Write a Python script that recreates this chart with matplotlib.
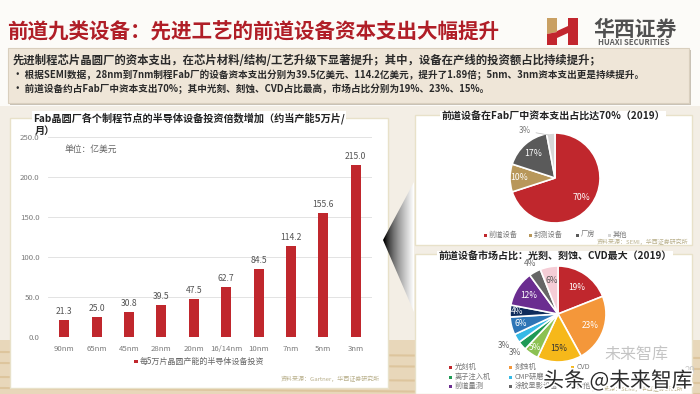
import numpy as np
import matplotlib
matplotlib.use("Agg")
import matplotlib.pyplot as plt
from matplotlib.patches import Rectangle, Polygon
import matplotlib.patheffects as pe

plt.rcParams['font.family'] = ['Noto Sans CJK SC', 'DejaVu Sans']

# data
nodes = ['90nm', '65nm', '45nm', '28nm', '20nm', '16/14nm', '10nm', '7nm', '5nm', '3nm']
capex = [21.3, 25.0, 30.8, 39.5, 47.5, 62.7, 84.5, 114.2, 155.6, 215.0]
y_ticks = [0, 50, 100, 150, 200, 250]

fab_labels = ['前道设备', '封测设备', '厂房', '其他']
fab_share = [70, 10, 17, 3]

equip_labels = ['光刻机', '刻蚀机', 'CVD', 'PVD', '离子注入机', 'CMP研磨',
                '清洗设备', '热处理设备', '前道量测', '涂胶显影设备', '其他']
equip_share = [19, 23, 15, 5, 3, 3, 6, 4, 12, 4, 6]

title = '前道九类设备：先进工艺的前道设备资本支出大幅提升'
summary = ['先进制程芯片晶圆厂的资本支出，在芯片材料/结构/工艺升级下显著提升；其中，设备在产线的投资额占比持续提升；',
           '• 根据SEMI数据，28nm到7nm制程Fab厂的设备资本支出分别为39.5亿美元、114.2亿美元，提升了1.89倍；5nm、3nm资本支出更是持续提升。',
           '• 前道设备约占Fab厂中资本支出70%；其中光刻、刻蚀、CVD占比最高，市场占比分别为19%、23%、15%。']

RED = '#C0272D'
fab_colors = [RED, '#B8975A', '#5A5A5A', '#D6D6D6']
equip_colors = [RED, '#F4973A', '#F6B81A', '#8CC152', '#1E9A55', '#35B9E6',
                '#2E75B6', '#0F2B5B', '#6B2D90', '#666666', '#F5CDD6']

W, H = 700, 394
fig = plt.figure(figsize=(7, 3.94), dpi=100, facecolor='#F3EEE5')


def fbox(x0, y0, x1, y1):
    # pixel box -> figure fraction [left, bottom, width, height]
    return [x0 / W, 1 - y1 / H, (x1 - x0) / W, (y1 - y0) / H]


# background layer in pixel coords
bg = fig.add_axes([0, 0, 1, 1])
bg.set_zorder(-1)
bg.axis('off')

bg.add_patch(Rectangle((0, 0), W, 106, color='#FCFBF8', lw=0, zorder=0.1))
bg.add_patch(Rectangle((0, 340), W, 54, color='#E6D2B0', lw=0, alpha=0.8, zorder=0.1))
for yy in [352, 363, 377, 388]:
    bg.plot([0, W], [yy, yy + 6], color='#D7B98A', lw=1.5, alpha=0.6, zorder=0.2)

# title + logo
bg.text(7, 32, title, fontsize=14.8, fontweight='bold', color='#B01E27', va='center')
bg.add_patch(Polygon([(547, 18), (557, 18), (557, 32), (547, 34)], color='#C9A063', lw=0))
bg.add_patch(Polygon([(547, 34), (557, 32), (557, 45), (547, 45)], color='#C2262E', lw=0))
bg.add_patch(Polygon([(557, 31), (568, 26), (568, 33), (557, 38)], color='#C2262E', lw=0))
bg.add_patch(Polygon([(568, 18), (578, 18), (578, 45), (568, 45)], color='#C2262E', lw=0))
bg.text(635, 29, '华西证券', fontsize=15, color='#505050', ha='center', va='center', fontweight='bold')
bg.text(634, 42, 'HUAXI SECURITIES', fontsize=5.6, color='#606060', ha='center', va='center', fontweight='bold')

# summary box
bg.add_patch(Rectangle((10, 50), 681, 55, color='#C9C2B6', lw=0))
bg.add_patch(Rectangle((8, 48), 681, 55, facecolor='#EFE6D8', edgecolor='#D9CFBE', lw=0.8))
sizes = [8.2, 6.9, 6.9]
for i, line in enumerate(summary):
    bg.text(13, 60 + i * 14.5, line, fontsize=sizes[i], color='#2A2A2A',
            fontweight='bold', va='center')

# panels
for (x0, y0, x1, y1) in [(10, 118, 388, 388), (415, 115, 692, 245), (415, 254, 692, 394)]:
    bg.add_patch(Rectangle((x0, y0), x1 - x0, y1 - y0, facecolor='white',
                           edgecolor='#E8E1C9', lw=1, zorder=1))

# gradient arrow between panels
tri = Polygon([(383, 240), (414, 182), (414, 312)], facecolor='none', edgecolor='none')
bg.add_patch(tri)
grad = np.linspace(0, 1, 100)[None, :] ** 0.6
im = bg.imshow(np.repeat(grad, 10, axis=0), cmap='gray', extent=(383, 414, 312, 182),
               vmin=0.15, vmax=1.0, aspect='auto', zorder=2)
im.set_clip_path(tri)
bg.set_xlim(0, W)
bg.set_ylim(H, 0)

# left panel title
bg.text(33, 118, 'Fab晶圆厂各个制程节点的半导体设备投资倍数增加（约当产能5万片/', fontsize=7.3,
        fontweight='bold', color='#222222', va='center',
        bbox=dict(facecolor='white', edgecolor='none', pad=1))
bg.text(35, 131, '月）', fontsize=7.3, fontweight='bold', color='#222222', va='center')

# bar chart
ax = fig.add_axes(fbox(48, 137, 372, 337))
x = np.arange(len(nodes))
ax.bar(x, capex, width=0.31, color=RED, zorder=3)
for xi, v in zip(x, capex):
    ax.text(xi, v + 5, f'{v:.1f}', ha='center', va='bottom', fontsize=6.2, color='#555555')
ax.set_xlim(-0.5, len(nodes) - 0.5)
ax.set_ylim(0, 250)
ax.set_yticks(y_ticks)
ax.set_yticklabels([f'{t:.1f}' for t in y_ticks])
ax.set_xticks(x)
ax.set_xticklabels(nodes)
ax.tick_params(axis='both', length=0, labelsize=5.6, colors='#7A7A7A')
ax.tick_params(axis='y', pad=6)
ax.tick_params(axis='x', pad=6)
ax.grid(axis='y', color='#E3E3E3', lw=0.7, zorder=0)
for s in ax.spines.values():
    s.set_visible(False)
ax.set_facecolor('white')
ax.text(0.02, 235, '单位：亿美元', fontsize=6.3, color='#666666', va='center')

bg.add_patch(Rectangle((134, 359.5), 3.5, 3.5, color=RED, lw=0, zorder=2))
bg.text(140, 361, '每5万片晶圆产能的半导体设备投资', fontsize=5.8, color='#666666', va='center')
bg.text(380, 379, '资料来源：Gartner，华西证券研究所', fontsize=4.3, color='#B9B08C', ha='right', va='center')

# pie 1
bg.text(553, 117, '前道设备在Fab厂中资本支出占比达70%（2019）', fontsize=7.2, fontweight='bold',
        color='#222222', ha='center', va='center',
        bbox=dict(facecolor='white', edgecolor='none', pad=1))
ax1 = fig.add_axes(fbox(510, 133, 600, 223))
w1, _ = ax1.pie(fab_share, colors=fab_colors, startangle=90, counterclock=False,
                wedgeprops=dict(edgecolor='white', linewidth=1.2))
ax1.set_xlim(-1, 1)
ax1.set_ylim(-1, 1)
for w, v, r in zip(w1, fab_share, [0.72, 0.8, 0.72, None]):
    th = np.deg2rad((w.theta1 + w.theta2) / 2)
    if r is None:
        ax1.annotate(f'{v}%', xy=(0.95 * np.cos(th), 0.95 * np.sin(th)), xytext=(-0.68, 1.05),
                     fontsize=5.8, color='#777777', ha='center', va='center',
                     arrowprops=dict(arrowstyle='-', color='#BBBBBB', lw=0.5))
    else:
        ax1.text(r * np.cos(th), r * np.sin(th), f'{v}%', fontsize=6.3, color='white',
                 ha='center', va='center')
leg_x = [485, 530, 577, 609]
for lx, lab, c in zip(leg_x, fab_labels, fab_colors):
    bg.add_patch(Rectangle((lx - 1.5, 233.5), 3, 3, color=c, lw=0, zorder=2))
    bg.text(lx + 4, 235, lab, fontsize=5.2, color='#777777', va='center')
bg.text(688, 242, '资料来源：SEMI，华西证券研究所', fontsize=4.3, color='#B9B08C', ha='right', va='center')

# pie 2
bg.text(555, 257, '前道设备市场占比：光刻、刻蚀、CVD最大（2019）', fontsize=7.2, fontweight='bold',
        color='#222222', ha='center', va='center',
        bbox=dict(facecolor='white', edgecolor='none', pad=1))
ax2 = fig.add_axes(fbox(510, 266, 606, 362))
w2, _ = ax2.pie(equip_share, colors=equip_colors, startangle=90, counterclock=False,
                wedgeprops=dict(edgecolor='white', linewidth=1.2))
ax2.set_xlim(-1, 1)
ax2.set_ylim(-1, 1)
label_r = [0.68, 0.72, 0.72, 0.85, 1.2, 1.3, 0.8, 0.85, 0.72, 1.2, 0.72]
label_c = ['white', 'white', '#333333', 'white', '#666666', '#666666', 'white', 'white',
           'white', '#666666', '#555555']
for w, v, r, c in zip(w2, equip_share, label_r, label_c):
    th = np.deg2rad((w.theta1 + w.theta2) / 2)
    ax2.text(r * np.cos(th), r * np.sin(th), f'{v}%', fontsize=6, color=c,
             ha='center', va='center')

leg_cols = [450, 510, 572]
leg_rows = [367, 377, 386]
shown = [0, 1, 2, 4, 5, 8, 9, 10]
slots = [0, 1, 2, 3, 4, 6, 7, 8]
for k, idx in zip(slots, shown):
    lx = leg_cols[k % 3]
    ly = leg_rows[k // 3]
    bg.add_patch(Rectangle((lx - 1.5, ly - 1.5), 3, 3, color=equip_colors[idx], lw=0, zorder=2))
    bg.text(lx + 5, ly, equip_labels[idx], fontsize=5.2, color='#777777', va='center')
bg.text(683, 389, '资料来源：SEMI，华西证券研究所', fontsize=4.3, color='#B9B08C', ha='right', va='center')

# watermark
fig.text(636 / W, 1 - 354 / H, '未来智库', fontsize=11.5, color='#C4C4C4', ha='center', va='center')
fig.text(695 / W, 1 - 371 / H, '29', fontsize=7, color='#C8C8C8', ha='right', va='center')
fig.text(618 / W, 1 - 381 / H, '头条 @未来智库', fontsize=15, color='#2B2B2B', ha='center', va='center',
         path_effects=[pe.withStroke(linewidth=2.5, foreground='white')])

fig.savefig('out.png', dpi=100, facecolor=fig.get_facecolor())
